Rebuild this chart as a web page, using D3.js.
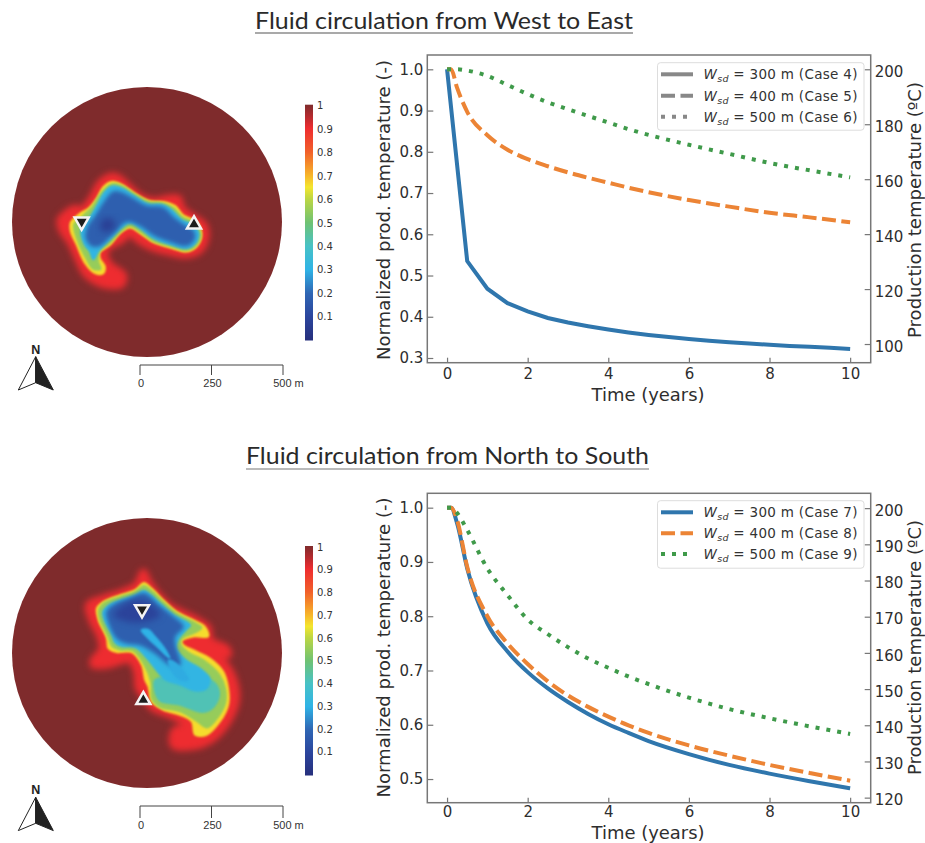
<!DOCTYPE html>
<html><head><meta charset="utf-8">
<script src="https://cdn.jsdelivr.net/npm/d3@7"></script>
<style>html,body{margin:0;padding:0;background:#fff}svg{display:block}</style></head>
<body><svg id="c" width="925" height="843"></svg>
<script>
// ---------- curve data ----------
const timeA = [0,0.5,1,1.5,2,2.5,3,3.5,4,4.5,5,5.5,6,6.5,7,7.5,8,8.5,9,9.5,10];
const case4 = [1,.535,.468,.433,.413,.397,.386,.377,.369,.362,.356,.351,.346,.342,.338,.335,.332,.329,.327,.325,.322];
const timeB = [0,.1,.25,.5,1,1.5,2,2.5,3,3.5,4,4.5,5,6,7,8,9,10];
const case5 = [1,1,.955,.897,.84,.805,.782,.765,.75,.737,.725,.713,.702,.683,.667,.652,.641,.629];
const case6 = [1,1,1,.997,.984,.962,.94,.92,.903,.887,.871,.855,.841,.817,.795,.773,.755,.738];
const case7 = [1,1,.971,.888,.787,.735,.697,.667,.642,.62,.601,.585,.57,.546,.526,.51,.496,.483];
const case8 = [1,1,.977,.891,.8,.75,.712,.68,.654,.633,.615,.599,.585,.562,.543,.526,.511,.497];
const case9 = [1,1,.99,.959,.888,.839,.794,.767,.743,.722,.705,.689,.675,.65,.629,.612,.597,.583];
const xTicks = [0,2,4,6,8,10];
const leftTicksTop = [.3,.4,.5,.6,.7,.8,.9,1];
const rightTicksTop = [100,120,140,160,180,200];
const leftTicksBottom = [.5,.6,.7,.8,.9,1];
const rightTicksBottom = [120,130,140,150,160,170,180,190,200];
const widths = [300,400,500];
const casesTop = [4,5,6];
const casesBottom = [7,8,9];
const lineColors = ["#2f76ad","#ec8435","#3f9a4a"];
const colorbarTicks = [1,.9,.8,.7,.6,.5,.4,.3,.2,.1];
const scaleTicks = [0,250,500];
// ---------- colormap ----------
const cmapValues = [0,.1,.2,.3,.4,.5,.6,.65,.7,.8,.9,.95,1];
const cmapColors = ["#262f7c","#2b459d","#2f66b4","#2fb3e6","#48c2c6","#6fc273","#bcd643","#f4e62e","#f7b52a","#f1602a","#ee2c30","#b52a2e","#7f2b2c"];
const cmap = d3.scaleLinear().domain(cmapValues).range(cmapColors);
// ---------- plume contours (level, traced outline on the map image) ----------
const plumeWestEast = [
 {level:.9,pts:[[30,165],[45,148],[75,130],[95,135],[125,100],[150,55],[185,33],[205,38],[225,55],[270,95],[310,108],[355,100],[385,100],[395,130],[420,150],[462,180],[468,215],[450,255],[410,270],[350,260],[300,245],[265,225],[240,205],[215,225],[170,250],[165,270],[180,300],[220,330],[215,358],[165,360],[110,330],[85,285],[60,230],[35,195]]},
 {level:.66,pts:[[62,172],[90,145],[115,130],[140,100],[160,65],[185,50],[215,58],[255,85],[300,108],[340,110],[375,122],[400,150],[440,170],[455,210],[440,245],[410,260],[360,248],[310,232],[270,205],[240,188],[210,205],[180,240],[150,262],[150,280],[165,305],[160,325],[135,325],[105,295],[80,240],[62,200]]},
 {level:.55,pts:[[72,178],[98,153],[128,123],[150,88],[170,66],[187,56],[215,62],[255,88],[298,111],[338,114],[370,128],[398,156],[432,173],[452,207],[440,240],[410,256],[360,244],[310,228],[270,200],[240,184],[212,200],[180,234],[148,260],[145,290],[152,312],[130,312],[108,280],[83,228]]},
 {level:.31,pts:[[92,200],[103,175],[123,150],[143,115],[163,80],[185,63],[215,68],[255,93],[295,116],[335,118],[365,133],[395,163],[427,178],[447,205],[437,236],[410,251],[360,239],[310,221],[270,191],[240,175],[215,190],[180,225],[148,257],[130,285],[118,260],[103,240]]},
 {level:.18,pts:[[108,220],[113,185],[138,150],[163,110],[190,80],[215,83],[245,98],[290,123],[340,128],[372,158],[402,180],[432,200],[432,225],[410,242],[360,230],[310,210],[270,182],[230,170],[190,207],[150,242],[125,243]]},
 {level:.08,pts:[[150,180],[165,160],[190,165],[195,185],[175,200],[155,197]]}
];
const plumeNorthSouth = [
 {level:.9,pts:[[25,120],[70,100],[130,80],[170,60],[190,22],[205,50],[230,85],[270,125],[310,145],[350,165],[385,190],[390,225],[440,250],[445,270],[400,242],[340,238],[310,243],[340,250],[395,262],[430,290],[460,340],[470,400],[450,460],[400,520],[340,545],[280,540],[285,495],[325,490],[310,470],[270,450],[220,430],[190,390],[175,370],[170,320],[150,285],[85,300],[40,300],[40,285],[65,255],[60,215],[35,165]]},
 {level:.66,pts:[[50,130],[70,110],[120,90],[165,75],[192,53],[215,70],[250,105],[290,140],[340,165],[375,185],[385,215],[340,215],[305,228],[310,240],[340,255],[390,280],[430,320],[445,370],[445,420],[420,470],[380,510],[345,510],[335,470],[300,450],[250,435],[215,410],[205,365],[195,345],[185,300],[155,262],[110,262],[85,250],[80,220],[55,165]]},
 {level:.55,pts:[[56,135],[73,113],[120,95],[165,80],[192,62],[215,77],[247,108],[287,143],[335,168],[365,188],[345,203],[305,222],[303,240],[327,263],[375,288],[418,328],[436,370],[436,415],[414,457],[382,488],[350,468],[300,440],[240,426],[216,402],[213,352],[193,300],[158,257],[120,255],[95,243],[85,217],[60,165]]},
 {level:.42,pts:[[225,345],[260,335],[330,330],[400,350],[418,385],[402,425],[368,442],[300,420],[240,408],[225,380]]},
 {level:.31,pts:[[68,140],[85,120],[125,103],[165,90],[192,76],[212,88],[240,113],[280,148],[332,180],[320,195],[295,225],[290,250],[320,285],[362,310],[390,340],[380,372],[345,378],[300,360],[255,345],[235,325],[205,287],[165,248],[125,245],[105,235],[95,210],[72,165]]},
 {level:.18,pts:[[80,140],[100,120],[150,100],[190,85],[210,95],[235,120],[280,155],[310,185],[285,215],[285,240],[300,300],[270,300],[225,265],[180,240],[140,235],[110,220],[85,170]]},
 {level:.09,pts:[[100,150],[150,110],[200,110],[240,150],[200,170],[140,170]]},
 {level:.3,pts:[[183,195],[205,193],[225,213],[255,250],[270,280],[255,270],[235,250],[205,222]]},
 {level:.29,pts:[[265,285],[290,295],[325,345],[300,345],[275,320]]}
];
const wellsWestEast = [{x:95,y:170,dir:"down"},{x:432,y:178,dir:"up"}];
const wellsNorthSouth = [{x:186,y:133,dir:"down"},{x:190,y:405,dir:"up"}];

// how each contour level is softened and widened to imitate the smooth field
function layerStyle(level){
  if(level>=.85) return {blur:"b3",grow:7};
  if(level>=.6)  return {blur:"b1",grow:1.5};
  if(level>=.4)  return {blur:"b1",grow:1.5};
  if(level>=.25) return {blur:"b1",grow:1};
  if(level>=.12) return {blur:"b2",grow:1};
  return {blur:"b3",grow:0};
}

const svg = d3.select("#c");
const defs = svg.append("defs");
[["b1",1.1],["b2",2],["b3",3],["soft",.35]].forEach(([id,s])=>{
  defs.append("filter").attr("id",id).attr("x","-30%").attr("y","-30%").attr("width","160%").attr("height","160%")
    .attr("color-interpolation-filters","sRGB")
    .append("feGaussianBlur").attr("stdDeviation",s);
});
const grad = defs.append("linearGradient").attr("id","cbar").attr("x1",0).attr("x2",0).attr("y1",1).attr("y2",0);
cmapValues.forEach((v,i)=>grad.append("stop").attr("offset",v).attr("stop-color",cmapColors[i]));

function drawMap(o){
  const g = svg.append("g");
  const sx = d3.scaleLinear().domain([0,510]).range(o.xRange);
  const sy = d3.scaleLinear().domain([0,o.h]).range(o.yRange);
  const clipId = "clip"+o.id;
  defs.append("clipPath").attr("id",clipId).append("circle").attr("cx",o.cx).attr("cy",o.cy).attr("r",135);
  g.append("circle").attr("cx",o.cx).attr("cy",o.cy).attr("r",135).attr("fill",cmap(1));
  const inner = g.append("g").attr("clip-path",`url(#${clipId})`);
  const line = d3.line().x(d=>sx(d[0])).y(d=>sy(d[1])).curve(d3.curveCatmullRomClosed.alpha(.5));
  inner.selectAll("path").data(o.plume).join("path")
    .attr("d",d=>line(d.pts)).attr("fill",d=>cmap(d.level))
    .attr("stroke",d=>cmap(d.level)).attr("stroke-width",d=>layerStyle(d.level).grow).attr("stroke-linejoin","round")
    .attr("filter",d=>`url(#${layerStyle(d.level).blur})`);
  // wells
  const sym = d3.symbol().type(d3.symbolTriangle).size(85);
  g.selectAll("path.well").data(o.wells).join("path").attr("class","well")
    .attr("d",sym()).attr("transform",d=>`translate(${sx(d.x)},${sy(d.y)}) rotate(${d.dir==="down"?180:0})`)
    .attr("fill","#1d1d1d").attr("stroke","#f4f4f4").attr("stroke-width",2.5).attr("stroke-linejoin","miter");
  // colorbar
  const cy = d3.scaleLinear().domain([.1,1]).range(o.cb);
  const yBottom = o.cbBottom, yTop = o.cb[1]-1;
  g.append("rect").attr("x",305).attr("y",yTop).attr("width",8).attr("height",yBottom-yTop).attr("fill","url(#cbar)").attr("filter","url(#soft)");
  g.selectAll("text.cb").data(colorbarTicks).join("text").attr("class","cb")
    .attr("x",317).attr("y",d=>cy(d)).attr("dy",".36em").attr("font-size",10)
    .attr("font-family","DejaVu Sans").attr("fill","#333").text(d=>d);
  // scale bar
  const sb = d3.scaleLinear().domain([0,500]).range([140,283]);
  const bar = g.append("g").attr("stroke","#444").attr("stroke-width",1).attr("fill","none");
  bar.append("line").attr("x1",sb(0)).attr("x2",sb(500)).attr("y1",o.sbY).attr("y2",o.sbY);
  bar.selectAll("line.t").data(scaleTicks).join("line").attr("class","t")
    .attr("x1",d=>sb(d)).attr("x2",d=>sb(d)).attr("y1",o.sbY).attr("y2",o.sbY+o.sbT);
  g.selectAll("text.sb").data(scaleTicks).join("text").attr("class","sb")
    .attr("x",d=>d===500?sb(d)+5.5:sb(d)+1).attr("y",o.sbLabel).attr("dy",".36em").attr("text-anchor","middle")
    .attr("font-family","Liberation Sans Narrow, Liberation Sans").attr("font-size",11).attr("fill","#333")
    .text(d=>d===500?"500 m":d);
  // north arrow
  const ax=35.7, ay=o.arrowY;
  const p = pts=>d3.line()(pts.map(q=>[ax+q[0],ay+q[1]]))+"Z";
  g.append("path").attr("d",p([[0,0],[-17.4,33.3],[0,26]])).attr("fill","#fff").attr("stroke","#222").attr("stroke-width",1);
  g.append("path").attr("d",p([[0,0],[0,26],[17.6,33.3]])).attr("fill","#222").attr("stroke","#222").attr("stroke-width",1);
  g.append("text").attr("x",ax).attr("y",ay-3).attr("text-anchor","middle").attr("font-family","Liberation Sans")
    .attr("font-weight","bold").attr("font-size",12.5).attr("fill","#222").text("N");
}

function drawChart(o){
  const g = svg.append("g");
  const x = d3.scaleLinear().domain([-.49,10.51]).range([427.3,870.7]);
  const y = d3.scaleLinear().domain(o.leftDomain).range([o.bottom,o.top]);
  const y2 = d3.scaleLinear().domain(o.rightDomain).range([o.bottom,o.top]);
  const frame="#777", txt="#2e2e2e";
  const style = (s,size)=>{ s.selectAll("path").remove();
    s.selectAll("line").attr("stroke",frame).attr("stroke-width",1.2);
    s.selectAll("text").attr("font-family","DejaVu Sans").attr("font-size",size).attr("fill",txt); };
  g.append("g").attr("transform",`translate(427.3,0)`).call(d3.axisLeft(y).tickValues(o.leftTicks).tickFormat(d3.format(".1f")).tickSize(-6).tickPadding(4)).call(s=>style(s,15));
  const r = g.append("g").attr("transform",`translate(870.7,0)`).call(d3.axisRight(y2).tickValues(o.rightTicks).tickSize(-6).tickPadding(4)).call(s=>style(s,15));
  r.selectAll("text").attr("dy",".48em");
  g.append("g").attr("transform",`translate(0,${o.bottom})`).call(d3.axisBottom(x).tickValues(xTicks).tickSize(-5).tickPadding(o.xPad)).call(s=>style(s,15));
  // lines
  const smooth = d3.line().x(d=>x(d.t)).y(d=>y(d.v)).curve(d3.curveMonotoneX);
  const straight = d3.line().x(d=>x(d.t)).y(d=>y(d.v));
  const dashes = [null,"14 5.5","4 7"];
  o.series.forEach((s,i)=>{
    const gen = s.straight ? straight : smooth;
    g.append("path").attr("d",gen(s.t.map((t,j)=>({t,v:s.v[j]})))).attr("fill","none")
     .attr("stroke",lineColors[i]).attr("stroke-width",4).attr("stroke-dasharray",dashes[i]);
  });
  // frame
  g.append("rect").attr("x",427.3).attr("y",o.top).attr("width",443.4).attr("height",o.bottom-o.top)
    .attr("fill","none").attr("stroke",frame).attr("stroke-width",1.5);
  // legend
  const l = g.append("g");
  l.append("rect").attr("x",657.5).attr("y",o.legY).attr("width",206.5).attr("height",o.legH).attr("rx",3)
    .attr("fill","#fff").attr("fill-opacity",.9).attr("stroke","#ddd").attr("stroke-width",1);
  o.legRows.forEach((ly,i)=>{
    l.append("line").attr("x1",661).attr("x2",693).attr("y1",ly).attr("y2",ly)
     .attr("stroke",o.legendGrey?"#888":lineColors[i]).attr("stroke-width",4).attr("stroke-dasharray",dashes[i]);
    const t = l.append("text").attr("x",703.5).attr("y",ly).attr("dy",".36em")
     .attr("font-family","DejaVu Sans").attr("font-size",13.5).attr("fill","#333")
     .attr("textLength",154).attr("lengthAdjust","spacing");
    t.append("tspan").attr("font-style","italic").text("W");
    t.append("tspan").attr("font-style","italic").attr("font-size",9.5).attr("dy",3).text("sd");
    t.append("tspan").attr("dy",-3).text(` = ${widths[i]} m (Case ${o.cases[i]})`);
  });
  // axis titles
  const lab = (txtv,x0,y0,len,size,rot)=>g.append("text").attr("transform",`translate(${x0},${y0})${rot?" rotate(-90)":""}`)
    .attr("text-anchor","middle").attr("dy",".36em").attr("font-family","DejaVu Sans").attr("font-size",size).attr("fill",txt)
    .attr("textLength",len).attr("lengthAdjust","spacingAndGlyphs").text(txtv);
  lab("Time (years)",648,o.xLabelY,113,17.5,false);
  lab("Normalized prod. temperature (-)",384,o.lY,300,17.5,true);
  lab("Production temperature (ºC)",915,o.rY,o.rLen,17.5,true);
}

function title(t,x1,x2,yc,ly,c){
  svg.append("text").attr("x",x1).attr("y",yc).attr("dy",".34em").attr("font-family","Lato").attr("font-size",24)
    .attr("fill","#2a2a2a").attr("textLength",x2-x1).attr("lengthAdjust","spacingAndGlyphs").text(t);
  svg.append("line").attr("x1",x1).attr("x2",x2).attr("y1",ly).attr("y2",ly).attr("stroke",c).attr("stroke-width",1.2);
}
title("Fluid circulation from West to East",255,633,21,33,"#555");
title("Fluid circulation from North to South",246,649,456,469,"#777");

drawMap({id:"a",plume:plumeWestEast,wells:wellsWestEast,xRange:[50,220],yRange:[165,295],h:390,cx:147,cy:222,cb:[316.7,105.7],cbBottom:340.5,sbY:365,sbT:10,sbLabel:383,arrowY:356.7});
drawMap({id:"b",plume:plumeNorthSouth,wells:wellsNorthSouth,xRange:[80,250],yRange:[565,755],h:570,cx:147,cy:653,cb:[751.7,547],cbBottom:775.5,sbY:806,sbT:12,sbLabel:825,arrowY:797.3});

drawChart({top:55,bottom:362.7,leftDomain:[.2886,1.0347],rightDomain:[93.2,205.2],leftTicks:leftTicksTop,rightTicks:rightTicksTop,
  series:[{t:timeA,v:case4,straight:true},{t:timeB,v:case5},{t:timeB,v:case6}],xPad:6,cases:casesTop,legendGrey:true,
  legY:62.7,legH:67.5,legRows:[74.3,95.7,116.7],xLabelY:395,lY:210,rY:210,rLen:256});
drawChart({top:493.3,bottom:802.7,leftDomain:[.4564,1.0265],rightDomain:[118.6,204.1],leftTicks:leftTicksBottom,rightTicks:rightTicksBottom,
  series:[{t:timeB,v:case7},{t:timeB,v:case8},{t:timeB,v:case9}],xPad:4,cases:casesBottom,legendGrey:false,
  legY:500.7,legH:67.5,legRows:[512.3,533.3,554],xLabelY:833,lY:647.5,rY:647.5,rLen:255});
</script></body></html>
